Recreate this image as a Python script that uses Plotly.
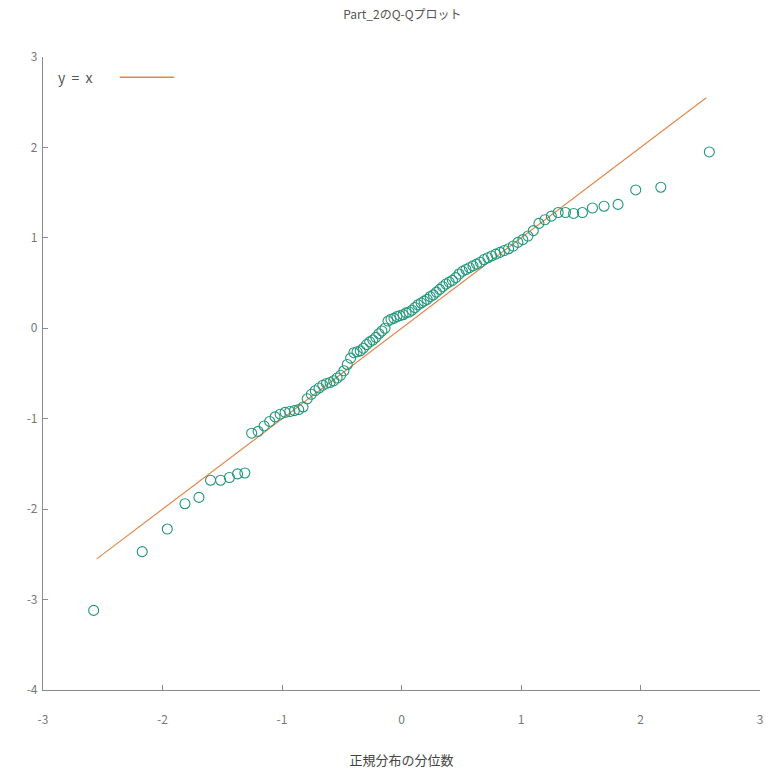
import plotly.graph_objects as go

# Theoretical normal quantiles (read positions along x)
theoretical = [
    -2.576, -2.170, -1.960, -1.812, -1.695, -1.598, -1.514, -1.440, -1.372, -1.311,
    -1.254, -1.200, -1.150, -1.103, -1.058, -1.015, -0.974, -0.935, -0.896, -0.860,
    -0.824, -0.789, -0.755, -0.722, -0.690, -0.659, -0.628, -0.598, -0.568, -0.539,
    -0.510, -0.482, -0.454, -0.426, -0.399, -0.372, -0.345, -0.319, -0.292, -0.266,
    -0.240, -0.215, -0.189, -0.164, -0.138, -0.113, -0.088, -0.063, -0.038, -0.013,
    0.013, 0.038, 0.063, 0.088, 0.113, 0.138, 0.164, 0.189, 0.215, 0.240,
    0.266, 0.292, 0.319, 0.345, 0.372, 0.399, 0.426, 0.454, 0.482, 0.510,
    0.539, 0.568, 0.598, 0.628, 0.659, 0.690, 0.722, 0.755, 0.789, 0.824,
    0.860, 0.896, 0.935, 0.974, 1.015, 1.058, 1.103, 1.150, 1.200, 1.254,
    1.311, 1.372, 1.440, 1.514, 1.598, 1.695, 1.812, 1.960, 2.170, 2.576,
]

# Sample quantiles
sample = [
    -3.12, -2.47, -2.22, -1.94, -1.87, -1.68, -1.68, -1.65, -1.61, -1.60,
    -1.16, -1.14, -1.08, -1.03, -0.98, -0.95, -0.93, -0.92, -0.91, -0.90,
    -0.87, -0.78, -0.73, -0.69, -0.66, -0.63, -0.61, -0.60, -0.58, -0.55,
    -0.52, -0.47, -0.40, -0.33, -0.27, -0.26, -0.25, -0.22, -0.18, -0.15,
    -0.13, -0.10, -0.06, -0.03, 0.00, 0.08, 0.10, 0.11, 0.13, 0.14,
    0.15, 0.17, 0.18, 0.20, 0.23, 0.26, 0.28, 0.30, 0.32, 0.35,
    0.37, 0.40, 0.43, 0.46, 0.49, 0.51, 0.53, 0.56, 0.60, 0.63,
    0.65, 0.67, 0.69, 0.71, 0.73, 0.76, 0.78, 0.80, 0.82, 0.84,
    0.86, 0.88, 0.91, 0.95, 0.98, 1.02, 1.08, 1.16, 1.20, 1.24,
    1.28, 1.28, 1.27, 1.28, 1.33, 1.35, 1.37, 1.53, 1.56, 1.95,
]

ref_x = [-2.55, 2.55]
ref_y = [-2.55, 2.55]

x_ticks = [-3, -2, -1, 0, 1, 2, 3]
y_ticks = [-4, -3, -2, -1, 0, 1, 2, 3]

title_text = "Part_2のQ-Qプロット"
x_title = "正規分布の分位数"
legend_label = "y = x"

FONT = "Noto Sans CJK JP, Noto Sans, sans-serif"
LINE_COLOR = "#e2874a"
MARKER_COLOR = "#23977b"
AXIS_COLOR = "#8a8a8a"
TEXT_COLOR = "#555555"

fig = go.Figure()
fig.add_trace(go.Scatter(
    x=ref_x, y=ref_y, mode="lines", name=legend_label,
    line=dict(color=LINE_COLOR, width=1.2), showlegend=False,
))
fig.add_trace(go.Scatter(
    x=theoretical, y=sample, mode="markers", name="sample",
    marker=dict(symbol="circle-open", size=10, color=MARKER_COLOR,
                line=dict(width=1.1, color=MARKER_COLOR)),
    showlegend=False,
))

# legend: text then line sample (as in the reference)
fig.add_annotation(
    xref="paper", yref="paper", x=0.018, y=0.968, xanchor="left", yanchor="middle",
    text="y  =  x", showarrow=False,
    font=dict(family=FONT, size=14, color=TEXT_COLOR),
)
fig.add_shape(
    type="line", xref="paper", yref="paper", x0=0.107, x1=0.183, y0=0.968, y1=0.968,
    line=dict(color=LINE_COLOR, width=1.5),
)

fig.update_layout(
    width=774, height=778,
    margin=dict(l=43, r=11, t=57, b=88),
    paper_bgcolor="white", plot_bgcolor="white",
    font=dict(family=FONT, size=12, color=TEXT_COLOR),
    title=dict(text=title_text, x=0.52, xanchor="center", y=0.981, yanchor="middle",
               font=dict(family=FONT, size=12, color=TEXT_COLOR)),
    showlegend=False,
)
fig.update_xaxes(
    range=[-3, 3], tickvals=x_ticks, ticktext=[str(v) for v in x_ticks],
    showgrid=False, zeroline=False, showline=True, linecolor=AXIS_COLOR, linewidth=1.2,
    ticks="inside", ticklen=5, tickcolor=AXIS_COLOR, ticklabelstandoff=18,
    title=dict(text=x_title, standoff=30, font=dict(family=FONT, size=13, color="#444444")),
    tickfont=dict(family=FONT, size=12, color="#777777"),
)
fig.update_yaxes(
    range=[-4, 3], tickvals=y_ticks, ticktext=[str(v) for v in y_ticks],
    showgrid=False, zeroline=False, showline=True, linecolor=AXIS_COLOR, linewidth=1.2,
    ticks="inside", ticklen=5, tickcolor=AXIS_COLOR, ticklabelstandoff=2,
    tickfont=dict(family=FONT, size=12, color="#777777"),
)

fig.write_html("out.html")
